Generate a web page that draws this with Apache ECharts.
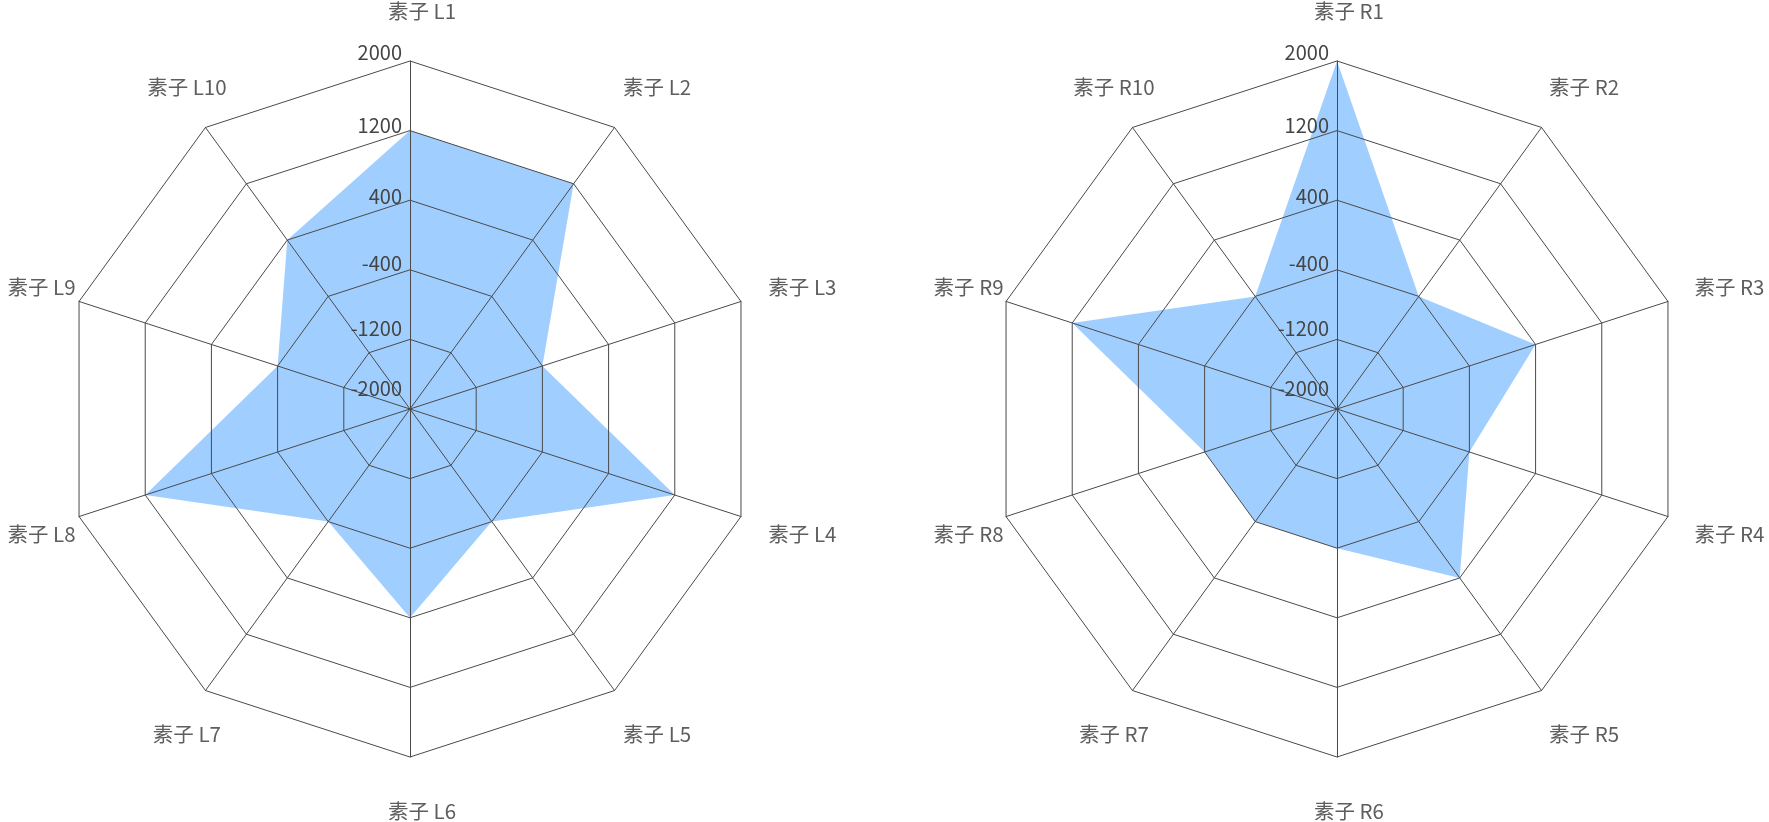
<!DOCTYPE html>
<html>
<head>
<meta charset="utf-8">
<script src="https://cdn.jsdelivr.net/npm/echarts@6/dist/echarts.min.js"></script>
<style>
html,body{margin:0;padding:0;background:#fff;}
#chart{width:1769px;height:822px;}
</style>
</head>
<body>
<div id="chart"></div>
<script>
// Data (clockwise order from the top, as in the reference)
const leftNames = ['素子 L1','素子 L2','素子 L3','素子 L4','素子 L5','素子 L6','素子 L7','素子 L8','素子 L9','素子 L10'];
const rightNames = ['素子 R1','素子 R2','素子 R3','素子 R4','素子 R5','素子 R6','素子 R7','素子 R8','素子 R9','素子 R10'];
const leftValues = [1200, 1200, -400, 1200, -400, 400, -400, 1200, -400, 400];
const rightValues = [2000, -400, 400, -400, 400, -400, -400, -400, 1200, -400];
const axisMin = -2000;
const axisMax = 2000;
const splitCount = 5;
const tickLabels = ['-2000', '-1200', '-400', '400', '1200', '2000'];

const FONT = '"Noto Sans CJK SC", "Noto Sans", sans-serif';

// ECharts lays radar indicators counter-clockwise; reverse (keeping the first) to go clockwise.
function clockwise(arr) {
  return [arr[0]].concat(arr.slice(1).reverse());
}

// small vertical lift of each tick label (as in reference)
const liftMap = { '2000': 18, '1200': 10, '400': 8, '-400': 12, '-1200': 22, '-2000': 42 };
const rich = {};
tickLabels.forEach((t, i) => {
  rich['t' + i] = { color: '#444', fontSize: 20, fontFamily: FONT, padding: [0, 0, liftMap[t], 0] };
});

function indicators(names) {
  return clockwise(names).map((n, i) => {
    const o = { name: n, min: axisMin, max: axisMax };
    if (i === 0) o.axisLabel = { show: true };
    return o;
  });
}

function radarCfg(names, cx) {
  return {
    z: 3,
    center: [cx, 409],
    radius: 348,
    startAngle: 90,
    splitNumber: splitCount,
    shape: 'polygon',
    indicator: indicators(names),
    nameGap: 52,
    axisName: {
      color: '#5e5e5e', fontSize: 20.5, fontFamily: FONT,
      align: 'center', verticalAlign: 'middle',
      formatter: function (n) { return '{n|' + n + '}'; },
      rich: {
        n: { color: '#5e5e5e', fontSize: 20.5, fontFamily: FONT, padding: [4, 0, 0, 24] }
      }
    },
    axisLine: { show: true, lineStyle: { color: '#4a4a4a', width: 1 } },
    splitLine: { show: true, lineStyle: { color: '#4a4a4a', width: 1 } },
    splitArea: { show: false },
    axisTick: { show: false },
    axisLabel: {
      show: false, color: '#444', fontSize: 20, fontFamily: FONT, margin: 8,
      formatter: function (v) {
        const s = String(Math.round(v));
        const k = tickLabels.indexOf(s);
        return k >= 0 ? '{t' + k + '|' + s + '}' : s;
      },
      rich: rich
    }
  };
}

const chart = echarts.init(document.getElementById('chart'), null, { renderer: 'canvas' });
chart.setOption({
  backgroundColor: '#fff',
  animation: false,
  radar: [radarCfg(leftNames, 410), radarCfg(rightNames, 1337)],
  series: [
    {
      type: 'radar', radarIndex: 0, symbol: 'none', z: 1,
      lineStyle: { width: 0, opacity: 0 },
      areaStyle: { color: '#a0cfff', opacity: 1 },
      data: [{ value: clockwise(leftValues) }]
    },
    {
      type: 'radar', radarIndex: 1, symbol: 'none', z: 1,
      lineStyle: { width: 0, opacity: 0 },
      areaStyle: { color: '#a0cfff', opacity: 1 },
      data: [{ value: clockwise(rightValues) }]
    }
  ]
});
</script>
</body>
</html>
